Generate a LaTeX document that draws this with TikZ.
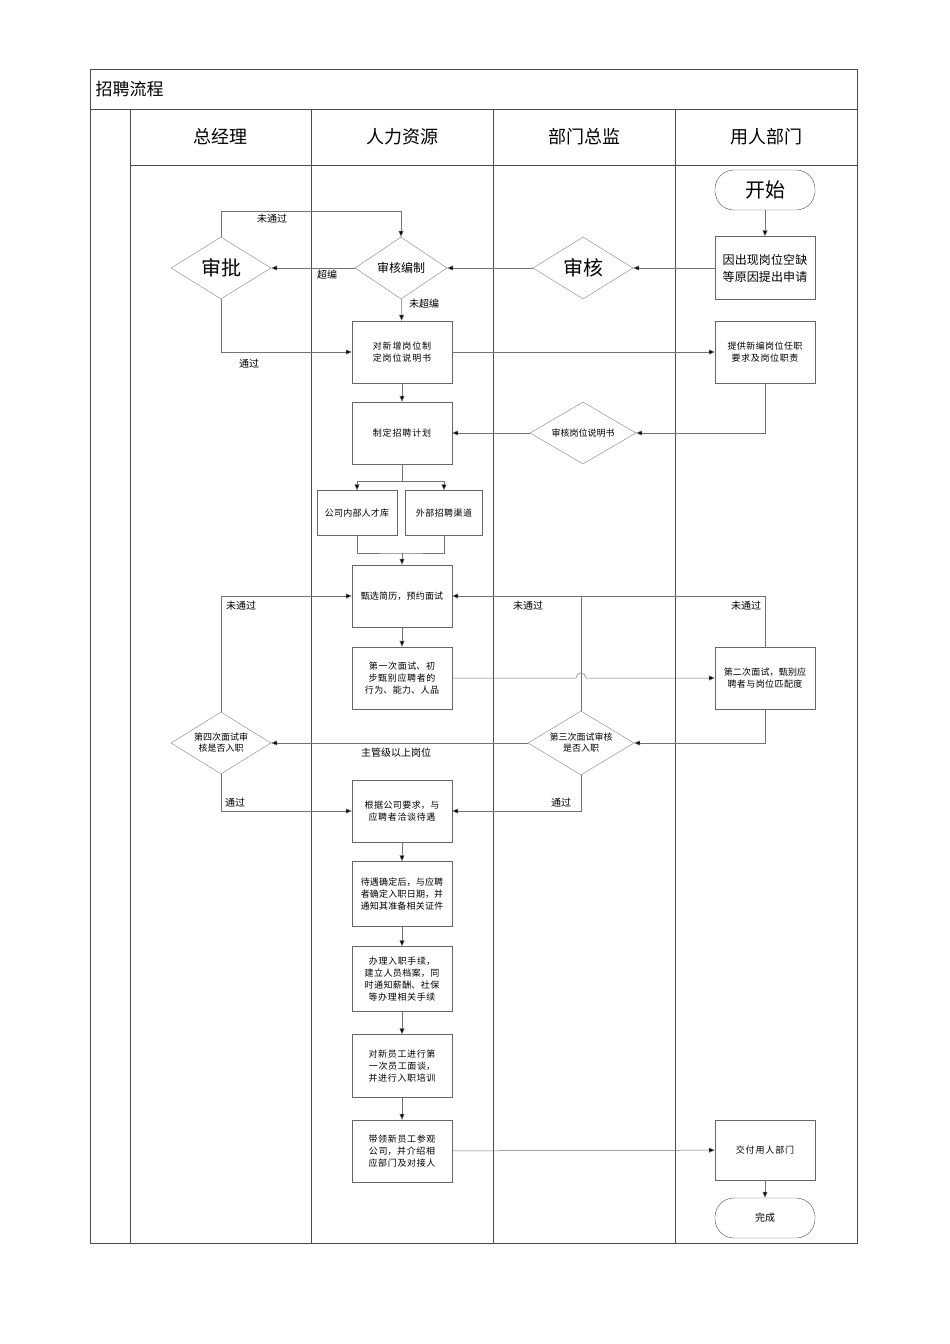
\documentclass[tikz,border=0pt]{standalone}
\usepackage{fontspec}
\setmainfont{Noto Sans CJK SC}
\XeTeXlinebreaklocale "zh"
\XeTeXlinebreakskip=0pt plus 1pt
\usetikzlibrary{shapes.geometric,arrows.meta}
\begin{document}
\begin{tikzpicture}[x=1pt,y=-1pt,
  frame/.style={draw=black!70,line width=0.6pt},
  box/.style={draw=black!60,minimum width=100pt,minimum height=62pt,align=center,text width=90pt,font=\fontsize{9}{12}\selectfont,inner sep=2pt},
  dia/.style={draw=black!50,diamond,aspect=1.6,inner sep=1pt,align=center,font=\fontsize{9}{11}\selectfont},
  term/.style={draw=black!70,rectangle,rounded corners=19pt,minimum width=100pt,minimum height=40pt},
  lane/.style={font=\fontsize{18}{20}\selectfont},
  conn/.style={draw=black!55,line width=0.5pt,-{Triangle[length=6pt,width=5pt,fill=black]}},
  lbl/.style={font=\fontsize{10}{12}\selectfont}]
\useasboundingbox (0,0) rectangle (950,1344);
% frame
\draw[frame] (90,69) rectangle (857,1243);
\draw[frame] (90,109) -- (857,109);
\draw[frame] (130,165) -- (857,165);
\foreach \x in {130,311,493,675} \draw[frame] (\x,109) -- (\x,1243);
\node[anchor=west,font=\fontsize{17}{20}\selectfont] (title) at (92,89) {招聘流程};
\node[lane] (h1) at (220,137) {总经理};
\node[lane] (h2) at (402,137) {人力资源};
\node[lane] (h3) at (584,137) {部门总监};
\node[lane] (h4) at (766,137) {用人部门};
% nodes
\node[term,font=\fontsize{20}{22}\selectfont] (start) at (765,190) {开始};
\node[box,minimum height=63pt,font=\fontsize{12}{17}\selectfont] (req) at (765,268) {因出现岗位空缺等原因提出申请};
\node[dia,minimum width=100pt,minimum height=62pt] (sh) at (583,268) {};
\node[font=\fontsize{20}{22}\selectfont] at (583,268) {审核};
\node[dia,minimum width=92pt,minimum height=62pt] (bz) at (401,268) {};
\node[font=\fontsize{12}{14}\selectfont] at (401,268) {审核编制};
\node[dia,minimum width=100pt,minimum height=62pt] (sp) at (221,268) {};
\node[font=\fontsize{20}{22}\selectfont] at (221,268) {审批};
\node[box] (sm) at (402,352) {对新增岗位制定岗位说明书};
\node[box] (tg) at (765,352) {提供新编岗位任职要求及岗位职责};
\node[box] (jh) at (402,433) {制定招聘计划};
\node[dia,minimum width=106pt,minimum height=62pt] (shsm) at (583,433) {};
\node[font=\fontsize{9}{11}\selectfont] at (583,433) {审核岗位说明书};
\node[box,minimum width=80pt,text width=72pt,minimum height=45pt] (nb) at (357,513) {公司内部人才库};
\node[box,minimum width=77pt,text width=72pt,minimum height=45pt] (wb) at (444,513) {外部招聘渠道};
\node[box] (zx) at (402,596) {甄选简历，预约面试};
\node[box] (m1) at (402,678) {第一次面试、初步甄别应聘者的行为、能力、人品};
\node[box] (m2) at (765,678) {第二次面试，甄别应聘者与岗位匹配度};
\node[dia,minimum width=106pt,minimum height=64pt] (m3) at (581,743) {};
\node[font=\fontsize{9}{11}\selectfont,align=center] at (581,743) {第三次面试审核\\是否入职};
\node[dia,minimum width=100pt,minimum height=62pt] (m4) at (221,743) {};
\node[font=\fontsize{9}{11}\selectfont,align=center] at (221,743) {第四次面试审\\核是否入职};
\node[box] (gj) at (402,811) {根据公司要求，与应聘者洽谈待遇};
\node[box,minimum height=65pt] (dy) at (402,894) {待遇确定后，与应聘者确定入职日期，并通知其准备相关证件};
\node[box,minimum height=65pt] (bl) at (402,979) {办理入职手续，建立人员档案，同时通知薪酬、社保等办理相关手续};
\node[box,minimum height=63pt] (px) at (402,1066) {对新员工进行第一次员工面谈，并进行入职培训};
\node[box] (dl) at (402,1151) {带领新员工参观公司，并介绍相应部门及对接人};
\node[box,minimum height=60pt] (jf) at (765,1150) {交付用人部门};
\node[term,font=\fontsize{10}{12}\selectfont] (end) at (765,1218) {完成};
% connectors
\draw[conn] (start) -- (req);
\draw[conn] (req) -- (sh);
\draw[conn] (sh) -- (bz);
\draw[conn] (bz) -- (sp);
\node[lbl] (l1) at (327,275) {超编};
\draw[conn] (sp.north) |- (401,211) -- (bz.north);
\node[lbl] (l2) at (272,219) {未通过};
\draw[conn] (bz) -- (sm);
\node[lbl] (l3) at (424,304) {未超编};
\draw[conn] (sp.south) |- (sm.west);
\node[lbl] (l4) at (249,364) {通过};
\draw[conn] (sm) -- (tg);
\draw[conn] (tg.south) |- (shsm.east);
\draw[conn] (shsm) -- (jh);
\draw[conn] (sm) -- (jh);
\coordinate (sp1) at (402,481);
\draw[draw=black!55] (jh.south) -- (sp1);
\draw[conn] (sp1) -| (nb.north);
\draw[conn] (sp1) -| (wb.north);
\coordinate (jn) at (402,553);
\draw[draw=black!55] (nb.south) |- (jn) -| (wb.south);
\draw[conn] (jn) -- (zx);
\draw[conn] (zx) -- (m1);
\draw[conn] (m1.east) -- (576,678) arc[start angle=180,end angle=360,radius=5] -- (m2.west);
\draw[conn] (m2.south) |- (m3.east);
\draw[conn] (m2.north) |- (zx.east);
\node[lbl] (l5) at (746,606) {未通过};
\draw[draw=black!55] (m3.north) -- (581,596);
\node[lbl] (l6) at (528,606) {未通过};
\draw[conn] (m3) -- (m4);
\node[lbl] (l7) at (396,753) {主管级以上岗位};
\draw[conn] (m4.north) |- (zx.west);
\node[lbl] (l8) at (241,606) {未通过};
\draw[conn] (m4.south) |- (gj.west);
\node[lbl] (l9) at (235,803) {通过};
\draw[conn] (m3.south) |- (gj.east);
\node[lbl] (l10) at (561,803) {通过};
\draw[conn] (gj) -- (dy);
\draw[conn] (dy) -- (bl);
\draw[conn] (bl) -- (px);
\draw[conn] (px) -- (dl);
\draw[conn] (dl) -- (jf);
\draw[conn] (jf) -- (end);
\end{tikzpicture}
\end{document}
